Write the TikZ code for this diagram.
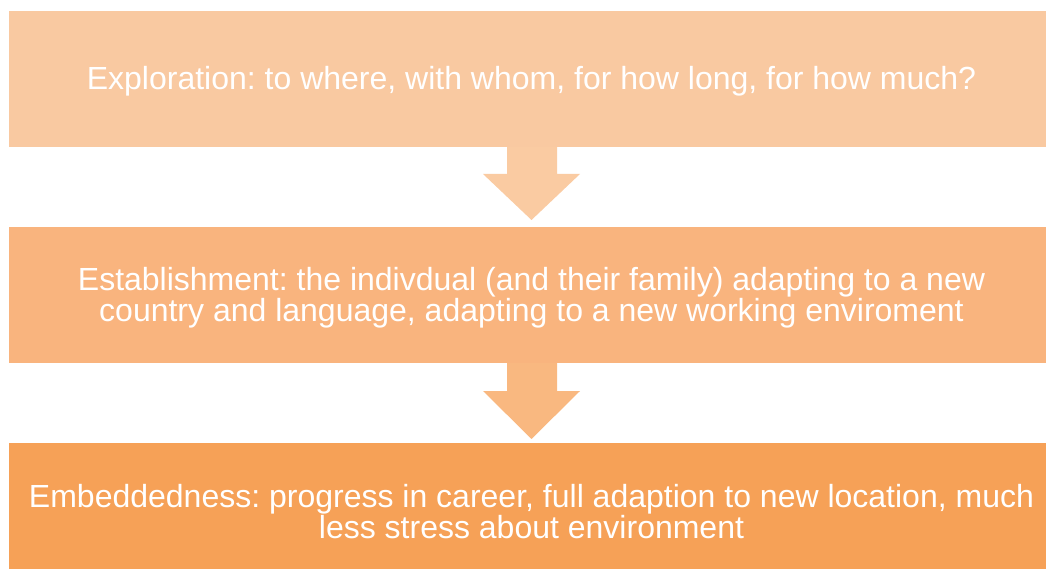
\documentclass[tikz,border=0pt]{standalone}
\usepackage{fontspec}
\setmainfont{Liberation Sans}
\frenchspacing
\definecolor{stageA}{HTML}{F9C9A1}
\definecolor{stageB}{HTML}{F9B47E}
\definecolor{stageC}{HTML}{F6A157}
\definecolor{arrowA}{HTML}{FACBA2}
\definecolor{arrowB}{HTML}{F9B880}
\begin{document}
\begin{tikzpicture}[x=1pt,y=-1pt,
  stage/.style={draw=none, text=white, align=center,
    font=\fontsize{32}{31}\selectfont}]
\useasboundingbox (0,0) rectangle (1046,569);
\clip (0,0) rectangle (1046,569);
% stage boxes
\fill[stageA] (9,11) rectangle (1054,147);
\fill[stageB] (9,227) rectangle (1054,363);
\fill[stageC] (9,443) rectangle (1054,579);
% block arrows between the stages
\fill[arrowA] (507,147) -- (557,147) -- (557,174) -- (580,174) -- (531.5,220)
  -- (483,174) -- (507,174) -- cycle;
\fill[arrowB] (507,363) -- (557,363) -- (557,391) -- (580,391) -- (531.5,439)
  -- (483,391) -- (507,391) -- cycle;
% stage texts
\node[stage] (s1) at (531.5,81) {Exploration: to where, with whom, for how long, for how much?};
\node[stage] (s2) at (531.5,297.5) {Establishment: the indivdual (and their family) adapting to a new\\country and language, adapting to a new working enviroment};
\node[stage] (s3) at (531.5,512) {Embeddedness: progress in career, full adaption to new location, much\\less stress about environment};
\end{tikzpicture}
\end{document}
